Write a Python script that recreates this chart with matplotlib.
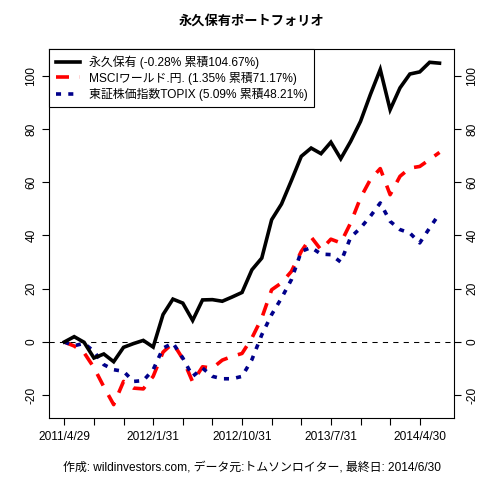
import matplotlib
matplotlib.use("Agg")
import matplotlib.pyplot as plt

plt.rcParams['font.family'] = ['Liberation Sans', 'Noto Sans CJK JP', 'DejaVu Sans']

# month index 0 = 2011/4/29 ... 38 = 2014/6/30
permanent = [0.0, 2.0, -0.1, -6.0, -4.5, -7.4, -2.0, -0.6, 0.6, -1.9,
             10.3, 16.1, 14.6, 8.1, 15.8, 15.9, 15.3, 16.9, 18.6, 27.1,
             31.5, 45.9, 51.8, 60.6, 69.7, 72.8, 70.7, 75.0, 68.8, 75.3,
             82.8, 92.9, 102.3, 87.2, 95.4, 100.6, 101.4, 105.0, 104.67]
msci = [0.0, -1.5, -4.0, -9.6, -16.8, -23.5, -14.8, -17.3, -17.6, -12.9,
        -3.8, -0.4, -6.3, -15.0, -9.3, -9.8, -6.8, -5.4, -4.3, 1.5,
        9.0, 19.6, 22.2, 26.5, 34.0, 39.4, 34.6, 38.6, 37.2, 44.7,
        54.1, 61.0, 65.1, 55.3, 62.2, 65.3, 65.9, 68.5, 71.17]
topix = [0.0, -1.4, -0.5, -3.5, -8.5, -10.4, -11.0, -14.8, -14.5, -10.4,
         -2.3, -0.4, -6.0, -12.9, -9.8, -12.9, -13.8, -13.8, -12.9, -6.6,
         2.7, 10.3, 16.5, 23.4, 34.0, 35.5, 33.0, 32.8, 30.0, 39.3,
         42.8, 47.2, 52.2, 45.3, 42.2, 40.9, 37.2, 42.8, 48.21]

legend_labels = ["永久保有 (-0.28% 累積104.67%)",
                 "MSCIワールド.円. (1.35% 累積71.17%)",
                 "東証株価指数TOPIX (5.09% 累積48.21%)"]
tick_positions = [0, 3, 6, 9, 12, 15, 18, 21, 24, 27, 30, 33, 36]
tick_labels = ["2011/4/29", "", "", "2012/1/31", "", "", "2012/10/31", "", "",
               "2013/7/31", "", "", "2014/4/30"]
yticks = [-20, 0, 20, 40, 60, 80, 100]
title = "永久保有ポートフォリオ"
footer = "作成: wildinvestors.com, データ元:トムソンロイター, 最終日: 2014/6/30"

x = list(range(len(permanent)))

fig = plt.figure(figsize=(4.8, 4.8), dpi=100)
ax = fig.add_axes([49.3/480, 1-418.3/480, (454.5-49.3)/480, (418.3-48.6)/480])

ax.axhline(0, color='black', lw=0.75, linestyle=(0, (5, 5)), zorder=1)
l1, = ax.plot(x, permanent, color='black', lw=2.6, solid_joinstyle='miter', zorder=3)
l2, = ax.plot(x, msci, color='#FF0000', lw=2.6, linestyle=(0, (3.6, 3.0)), zorder=2)
l3, = ax.plot(x, topix, color='#00008B', lw=2.6, linestyle=(0, (1.4, 2.0)), zorder=2)

n = len(permanent) - 1
ax.set_xlim(-0.04*n, n + 0.04*n)
allv = permanent + msci + topix
lo, hi = min(allv), max(allv)
r = hi - lo
ax.set_ylim(lo - 0.04*r, hi + 0.04*r)

ax.set_xticks(tick_positions)
ax.set_xticklabels(tick_labels)
ax.set_yticks(yticks)
ax.set_yticklabels([str(v) for v in yticks])
ax.tick_params(axis='both', direction='out', length=5, width=0.8, labelsize=8.6, color='black')
ax.tick_params(axis='x', pad=4)
ax.tick_params(axis='y', right=True, labelright=True, labelrotation=90, pad=3.5)
for lab in ax.get_yticklabels():
    lab.set_va('center')
for sp in ax.spines.values():
    sp.set_linewidth(0.8)

leg = ax.legend([l1, l2, l3], legend_labels, loc='upper left', bbox_to_anchor=(0, 1),
                borderaxespad=0, fancybox=False, edgecolor='black', framealpha=1,
                fontsize=8.6, handlelength=2.0, handletextpad=0.75, borderpad=0.55,
                labelspacing=0.25)
leg.get_frame().set_linewidth(0.8)

cx = (49.3 + 454.5) / 2 / 480
fig.text(cx, 1 - 21/480, title, ha='center', va='center', fontsize=9.5, fontweight='bold',
         family=['Noto Sans CJK JP'])
fig.text(cx, 1 - 468/480, footer, ha='center', va='center', fontsize=8.6)

fig.savefig("out.png", dpi=100)
